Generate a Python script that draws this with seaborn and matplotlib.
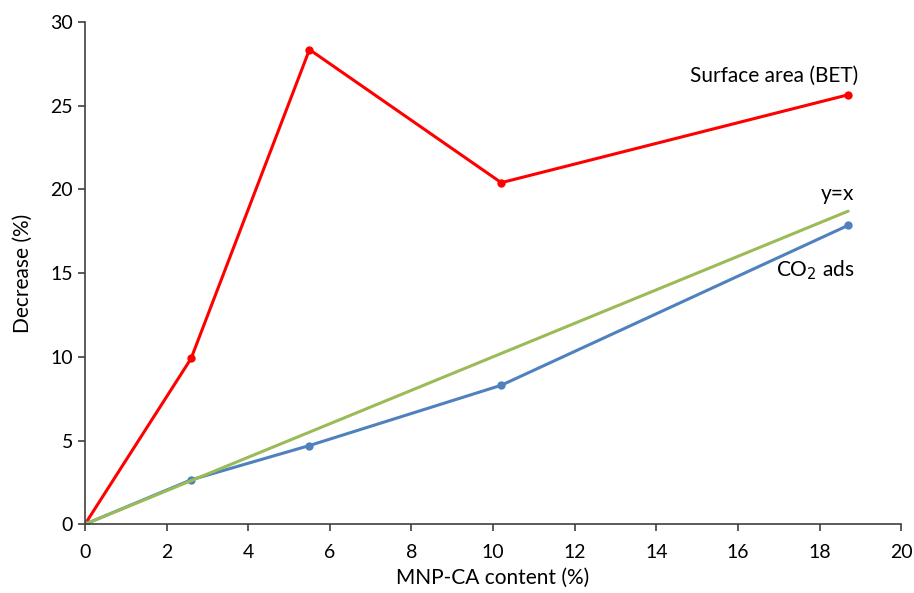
import matplotlib
matplotlib.use("Agg")
import matplotlib.pyplot as plt
import pandas as pd
import seaborn as sns

# dados
conteudo = [0, 2.6, 5.5, 10.2, 18.7]
area_bet = [0, 9.9, 28.35, 20.4, 25.65]
co2_ads = [0, 2.65, 4.7, 8.3, 17.85]
linha_x = [0, 18.7]
linha_y = [0, 18.7]

df_bet = pd.DataFrame({"x": conteudo, "y": area_bet})
df_co2 = pd.DataFrame({"x": conteudo, "y": co2_ads})
df_ref = pd.DataFrame({"x": linha_x, "y": linha_y})

sns.set_style("ticks")
plt.rcParams["font.family"] = ["Lato", "DejaVu Sans"]
plt.rcParams["text.color"] = "black"
plt.rcParams["axes.labelcolor"] = "black"

fig, ax = plt.subplots(figsize=(9.14, 5.93), dpi=100)
fig.subplots_adjust(left=0.093, right=0.986, top=0.963, bottom=0.116)

sns.lineplot(data=df_bet, x="x", y="y", ax=ax, color="#ff0000", lw=2.2,
             marker="o", markersize=6, markeredgewidth=0)
sns.lineplot(data=df_co2, x="x", y="y", ax=ax, color="#4f81bd", lw=2.2,
             marker="o", markersize=6, markeredgewidth=0)
sns.lineplot(data=df_ref, x="x", y="y", ax=ax, color="#9bbb59", lw=2.2)

ax.set_xlim(0, 20)
ax.set_ylim(0, 30)
ax.set_xticks(range(0, 21, 2))
ax.set_yticks(range(0, 31, 5))
ax.tick_params(labelsize=14, length=5, width=1.2, colors="#404040", labelcolor="black")
ax.tick_params(axis="x", pad=9)
for s in ["left", "bottom"]:
    ax.spines[s].set_color("#404040")
    ax.spines[s].set_linewidth(1.2)
sns.despine(ax=ax)

ax.set_xlabel("MNP-CA content (%)", fontsize=15, labelpad=5)
ax.set_ylabel("Decrease (%)", fontsize=15, labelpad=13)

ax.text(18.95, 26.8, "Surface area (BET)", fontsize=15, ha="right", va="center")
ax.text(18.85, 19.7, "y=x", fontsize=15, ha="right", va="center")
ax.text(18.85, 15.2, "CO$_2$ ads", fontsize=15, ha="right", va="center")

plt.savefig("out.png", dpi=100)
